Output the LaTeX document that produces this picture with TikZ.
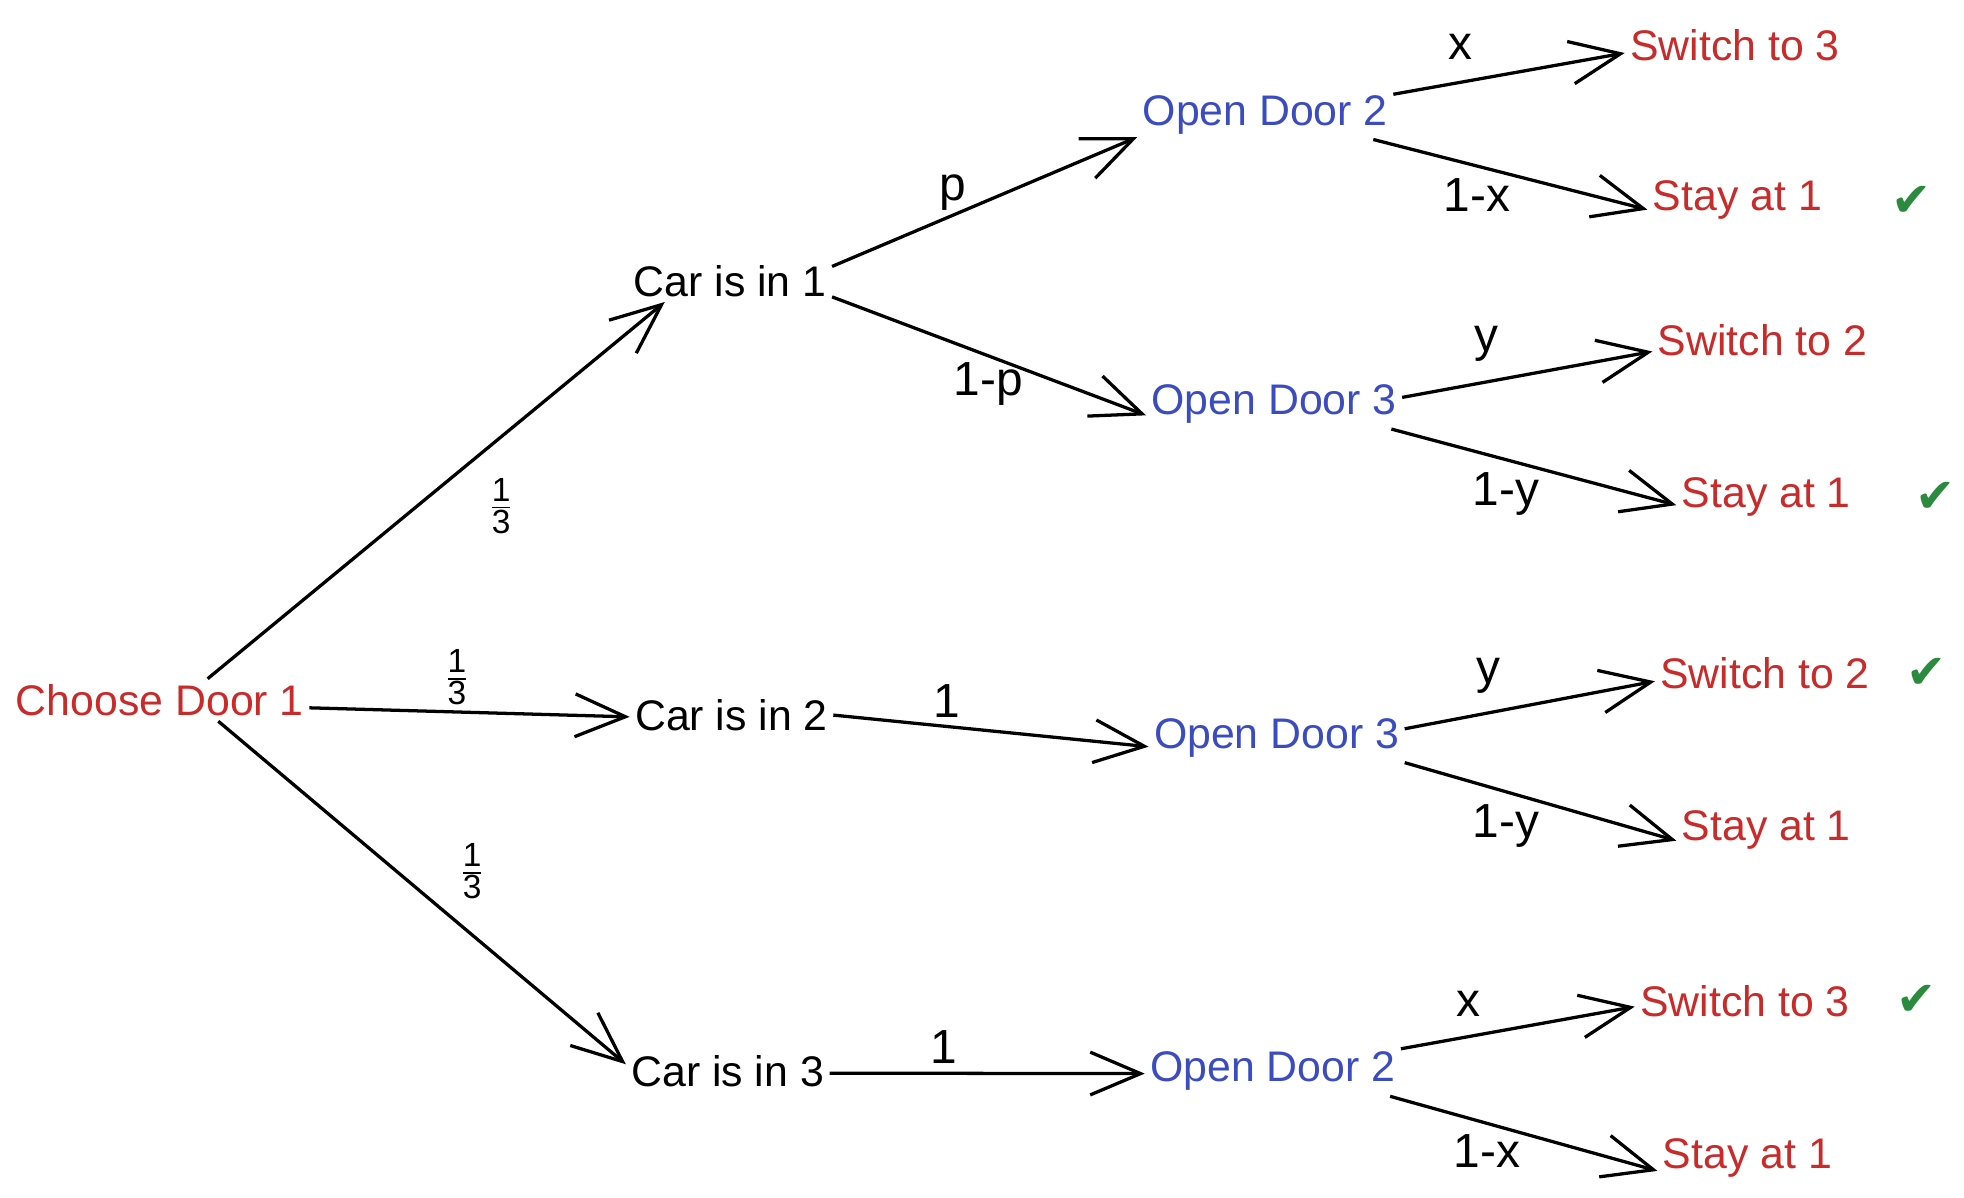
\documentclass[tikz,border=0pt]{standalone}
\usepackage{amsmath}
\usepackage{fontspec}
\setmainfont{Liberation Sans}
\newfontfamily\tickfont{DejaVu Sans}
\usetikzlibrary{arrows.meta}

\definecolor{pickred}{HTML}{C92A2A}
\definecolor{doorblue}{HTML}{3B4CC0}
\definecolor{tickgreen}{HTML}{2B8A3E}

\begin{document}
\begin{tikzpicture}
[
    x=0.5pt, y=-0.5pt,
    state/.style={font=\fontsize{17}{20}\selectfont, inner sep=2pt},
    pick/.style={state, text=pickred},
    door/.style={state, text=doorblue},
    prob/.style={font=\fontsize{19}{22}\selectfont, inner sep=1pt},
    third/.style={font=\fontsize{19}{22}\selectfont, inner sep=1pt},
    tick/.style={font=\tickfont\fontsize{19}{22}\selectfont, text=tickgreen},
    branch/.style={-{Straight Barb[length=20pt, width=17pt, line width=1.3pt]}, line width=1.3pt},
]
\useasboundingbox (0,0) rectangle (1560,951);

\node [pick] (choose) at (127,556) {Choose Door 1};

\node [state] (car1) at (580,223) {Car is in 1};
\node [state] (car2) at (581,568) {Car is in 2};
\node [state] (car3) at (578,851) {Car is in 3};

\node [door] (door12) at (1005,91)  {Open Door 2};
\node [door] (door13) at (1012,321) {Open Door 3};
\node [door] (door23) at (1014,586) {Open Door 3};
\node [door] (door32) at (1011,851) {Open Door 2};

\node [pick] (switch3a) at (1378,36)  {Switch to 3};
\node [pick] (stay1a)   at (1380,159) {Stay at 1};
\node [pick] (switch2a) at (1400,270) {Switch to 2};
\node [pick] (stay1b)   at (1403,395) {Stay at 1};
\node [pick] (switch2b) at (1402,535) {Switch to 2};
\node [pick] (stay1c)   at (1403,659) {Stay at 1};
\node [pick] (switch3b) at (1386,795) {Switch to 3};
\node [pick] (stay1d)   at (1388,920) {Stay at 1};

\node [tick] (tick1) at (1518,160) {✔};
\node [tick] (tick2) at (1537,395) {✔};
\node [tick] (tick3) at (1530,535) {✔};
\node [tick] (tick4) at (1522,795) {✔};

\draw [branch] (choose.24)  -- (car1.198);
\draw [branch] (choose.-3)  -- (car2.181);
\draw [branch] (choose.-20) -- (car3.176);

\draw [branch] (car1.8)  -- (door12.190);
\draw [branch] (car1.-9) -- (door13.185);
\draw [branch] (car2.0)  -- (door23.184);
\draw [branch] (car3.-1) -- (door32.181);

\draw [branch] (door12.9)   -- (switch3a.184);
\draw [branch] (door12.-13) -- (stay1a.186);
\draw [branch] (door13.3)   -- (switch2a.186);
\draw [branch] (door13.-12) -- (stay1b.185);
\draw [branch] (door23.4)   -- (switch2b.184);
\draw [branch] (door23.-11) -- (stay1c.187);
\draw [branch] (door32.10)  -- (switch3b.183);
\draw [branch] (door32.-12) -- (stay1d.188);

\node [third] (q1) at (398,402) {$\frac{\text{1}}{\text{3}}$};
\node [third] (q2) at (363,538) {$\frac{\text{1}}{\text{3}}$};
\node [third] (q3) at (375,692) {$\frac{\text{1}}{\text{3}}$};

\node [prob] (lp)  at (757,153) {p};
\node [prob] (lnp) at (785,305) {1-p};
\node [prob] (lo2) at (752,557) {1};
\node [prob] (lo3) at (750,832) {1};

\node [prob] (lxa)  at (1160,37)  {x};
\node [prob] (lnxa) at (1173,155) {1-x};
\node [prob] (lya)  at (1181,273) {y};
\node [prob] (lnya) at (1196,392) {1-y};
\node [prob] (lyb)  at (1182,537) {y};
\node [prob] (lnyb) at (1196,656) {1-y};
\node [prob] (lxb)  at (1166,797) {x};
\node [prob] (lnxb) at (1181,914) {1-x};
\end{tikzpicture}
\end{document}
